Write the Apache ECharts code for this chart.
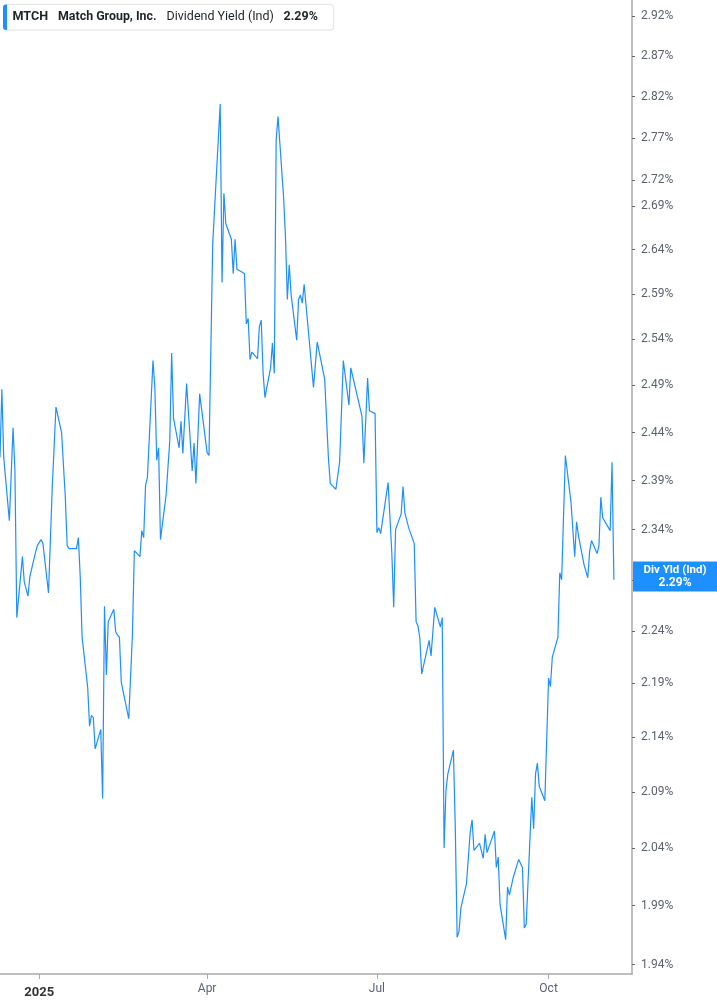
<!DOCTYPE html>
<html><head><meta charset="utf-8">
<script src="https://cdn.jsdelivr.net/npm/echarts@6/dist/echarts.min.js"></script>
<style>html,body{margin:0;padding:0;background:#fff}#c{width:717px;height:1005px}</style>
</head><body><div id="c"></div>
<script>
const dates = [
'2024-12-11','2024-12-12','2024-12-13','2024-12-16','2024-12-18','2024-12-19','2024-12-20','2024-12-23','2024-12-24','2024-12-26','2024-12-27','2024-12-30','2024-12-31',
'2025-01-02','2025-01-03','2025-01-06','2025-01-08','2025-01-10','2025-01-13','2025-01-15','2025-01-16','2025-01-17','2025-01-21','2025-01-22','2025-01-23','2025-01-24','2025-01-27','2025-01-28','2025-01-29','2025-01-30','2025-01-31',
'2025-02-03','2025-02-04','2025-02-05','2025-02-06','2025-02-07','2025-02-10','2025-02-11','2025-02-12','2025-02-13','2025-02-14','2025-02-18','2025-02-20','2025-02-21','2025-02-24','2025-02-25','2025-02-26','2025-02-27','2025-02-28',
'2025-03-03','2025-03-04','2025-03-05','2025-03-06','2025-03-07','2025-03-10','2025-03-12','2025-03-13','2025-03-14','2025-03-17','2025-03-18','2025-03-19','2025-03-21','2025-03-24','2025-03-25','2025-03-26','2025-03-27','2025-03-28',
'2025-04-01','2025-04-02','2025-04-04','2025-04-08','2025-04-09','2025-04-10','2025-04-11','2025-04-14','2025-04-15','2025-04-16','2025-04-17','2025-04-21','2025-04-22','2025-04-23','2025-04-24','2025-04-25','2025-04-28','2025-04-29','2025-04-30',
'2025-05-01','2025-05-02','2025-05-05','2025-05-06','2025-05-07','2025-05-08','2025-05-09','2025-05-12','2025-05-13','2025-05-14','2025-05-15','2025-05-16','2025-05-19','2025-05-20','2025-05-21','2025-05-22','2025-05-23','2025-05-28','2025-05-30',
'2025-06-03','2025-06-05','2025-06-06','2025-06-09','2025-06-11','2025-06-13','2025-06-16','2025-06-17','2025-06-18','2025-06-20','2025-06-23','2025-06-24','2025-06-26','2025-06-27','2025-06-30',
'2025-07-01','2025-07-02','2025-07-03','2025-07-07','2025-07-09','2025-07-10','2025-07-11','2025-07-14','2025-07-15','2025-07-16','2025-07-18','2025-07-21','2025-07-22','2025-07-23','2025-07-24','2025-07-25','2025-07-29','2025-07-30','2025-07-31',
'2025-08-01','2025-08-04','2025-08-05','2025-08-06','2025-08-07','2025-08-08','2025-08-11','2025-08-12','2025-08-13','2025-08-14','2025-08-15','2025-08-18','2025-08-19','2025-08-20','2025-08-21','2025-08-22','2025-08-25','2025-08-27','2025-08-28','2025-08-29',
'2025-09-02','2025-09-03','2025-09-04','2025-09-05','2025-09-08','2025-09-09','2025-09-10','2025-09-12','2025-09-15','2025-09-16','2025-09-17','2025-09-18','2025-09-19','2025-09-22','2025-09-23','2025-09-24','2025-09-25','2025-09-26','2025-09-29','2025-09-30',
'2025-10-01','2025-10-02','2025-10-03','2025-10-06','2025-10-07','2025-10-08','2025-10-10','2025-10-13','2025-10-15','2025-10-16','2025-10-17','2025-10-20','2025-10-22','2025-10-23','2025-10-24','2025-10-27','2025-10-28','2025-10-29','2025-10-30',
'2025-11-03','2025-11-04','2025-11-05'
];
const yields = [
2.414,2.486,2.414,2.349,2.445,2.400,2.253,2.313,2.288,2.274,2.293,2.317,2.324,
2.330,2.326,2.277,2.383,2.467,2.440,2.373,2.324,2.321,2.321,2.332,2.293,2.234,2.186,2.150,2.160,2.158,2.129,
2.147,2.084,2.264,2.198,2.249,2.261,2.239,2.236,2.234,2.191,2.157,2.238,2.319,2.313,2.339,2.332,2.385,2.393,
2.517,2.487,2.411,2.424,2.330,2.375,2.432,2.525,2.455,2.424,2.452,2.418,2.492,2.400,2.429,2.387,2.386,2.481,
2.419,2.416,2.647,2.811,2.603,2.705,2.670,2.652,2.613,2.652,2.618,2.613,2.557,2.563,2.518,2.526,2.519,2.554,2.561,
2.503,2.477,2.509,2.536,2.503,2.768,2.796,2.700,2.654,2.584,2.623,2.590,2.539,2.584,2.589,2.580,2.601,2.488,2.537,
2.497,2.414,2.387,2.381,2.409,2.517,2.469,2.509,2.508,2.483,2.457,2.408,2.498,2.463,2.460,
2.337,2.342,2.336,2.388,2.316,2.263,2.340,2.356,2.384,2.357,2.342,2.326,2.249,2.245,2.233,2.199,2.231,2.216,2.217,
2.263,2.244,2.253,2.040,2.091,2.106,2.128,2.058,1.963,1.968,1.988,2.009,2.009,2.054,2.065,2.038,2.044,2.031,2.052,2.036,
2.055,2.023,2.032,1.991,1.961,2.006,1.999,2.014,2.030,2.031,2.023,1.971,1.974,2.085,2.057,2.106,2.116,2.095,2.082,2.138,
2.195,2.187,2.215,2.234,2.297,2.290,2.416,2.368,2.313,2.348,2.334,2.305,2.292,2.318,2.329,2.316,2.324,2.373,2.352,
2.339,2.409,2.290
];
const yTickValues = [1.94,1.99,2.04,2.09,2.14,2.19,2.24,2.29,2.34,2.39,2.44,2.49,2.54,2.59,2.64,2.69,2.72,2.77,2.82,2.87,2.92];
const xTickDates = ['2025-01-01','2025-04-01','2025-07-01','2025-10-01'];
const xTickLabels = ['2025','Apr','Jul','Oct'];
const yMin = 1.9322, yMax = 2.94;
const xMin = '2024-12-11T00:00:00', xMax = '2025-11-14T17:00:00';
const lastYield = 2.29;
const ticker = 'MTCH', company = 'Match Group, Inc.', metric = 'Dividend Yield (Ind)', boxTitle = 'Div Yld (Ind)';

const BLUE = '#1e8fff';
const AX = '#ababab';
const FONT = 'Roboto';
const ts = s => new Date(s.length === 10 ? s + 'T00:00:00' : s).getTime();
const xTickTs = xTickDates.map(ts);

const chart = echarts.init(document.getElementById('c'));
chart.setOption({
  animation: false,
  backgroundColor: '#fff',
  grid: { left: 0, right: 85, top: 0, bottom: 31, containLabel: false },
  xAxis: {
    type: 'value',
    min: ts(xMin), max: ts(xMax),
    axisLine: { show: true, onZero: false, lineStyle: { color: AX, width: 1.5 } },
    axisTick: { show: true, length: 5, lineStyle: { color: AX, width: 1 }, customValues: xTickTs },
    splitLine: { show: false },
    axisLabel: {
      customValues: xTickTs,
      margin: 9,
      fontFamily: FONT, fontSize: 12, color: '#5b6170',
      formatter: function (v) {
        let best = 0, bd = Infinity;
        xTickTs.forEach((t, i) => { const dd = Math.abs(t - v); if (dd < bd) { bd = dd; best = i; } });
        return best === 0 ? '{y|' + xTickLabels[0] + '}' : xTickLabels[best];
      },
      rich: { y: { fontFamily: FONT, fontSize: 13, fontWeight: 'bold', color: '#333', padding: [3, 0, 0, 0] } }
    }
  },
  yAxis: {
    type: 'value',
    position: 'right',
    min: Math.log(yMin), max: Math.log(yMax),
    axisLine: { show: true, lineStyle: { color: AX, width: 1.5 } },
    axisTick: { show: true, inside: false, length: 3, lineStyle: { color: '#666', width: 1 }, customValues: yTickValues.map(Math.log) },
    splitLine: { show: false },
    axisLabel: {
      customValues: yTickValues.map(Math.log),
      margin: 9,
      fontFamily: FONT, fontSize: 12, color: '#5b6170',
      formatter: v => Math.exp(v).toFixed(2) + '%'
    }
  },
  graphic: [
    { type: 'rect', shape: { x: 3.5, y: 4.5, width: 330, height: 25.5, r: 3 },
      style: { fill: '#fff', stroke: '#e6e6e6', lineWidth: 1, shadowBlur: 2, shadowColor: 'rgba(0,0,0,0.05)' }, z: 10 },
    { type: 'rect', shape: { x: 3, y: 4.5, width: 4, height: 25.5, r: [3, 0, 0, 3] }, style: { fill: BLUE }, z: 11 },
    { type: 'text', x: 12.5, y: 17, style: { text: ticker, fontFamily: FONT, fontSize: 12.6, fontWeight: 'bold', fill: '#1f2329', verticalAlign: 'middle' }, z: 11 },
    { type: 'text', x: 58, y: 17, style: { text: company, fontFamily: FONT, fontSize: 12.4, fontWeight: 'bold', fill: '#1f2329', verticalAlign: 'middle' }, z: 11 },
    { type: 'text', x: 166.5, y: 17, style: { text: metric, fontFamily: FONT, fontSize: 12.5, fontWeight: 'normal', fill: '#1f2329', verticalAlign: 'middle' }, z: 11 },
    { type: 'text', x: 283.5, y: 17, style: { text: lastYield.toFixed(2) + '%', fontFamily: FONT, fontSize: 12.5, fontWeight: 'bold', fill: '#1f2329', verticalAlign: 'middle' }, z: 11 }
  ],
  series: [{
    type: 'line',
    data: dates.map((d, i) => [ts(d), Math.log(yields[i])]),
    showSymbol: false,
    symbol: 'none',
    lineStyle: { color: BLUE, width: 1.2 },
    clip: false,
    markLine: {
      silent: true,
      symbol: 'none',
      clip: false,
      lineStyle: { color: 'rgba(0,0,0,0)', width: 0, type: 'solid' },
      emphasis: { disabled: true },
      data: [{ yAxis: Math.log(lastYield) }],
      label: {
        show: true,
        position: 'end',
        distance: 1,
        formatter: '{a|' + boxTitle + '}\n{b|' + lastYield.toFixed(2) + '%}',
        backgroundColor: BLUE,
        width: 84,
        padding: [2, 0, 2, 0],
        rich: {
          a: { fontFamily: FONT, fontSize: 11.5, fontWeight: 'bold', color: '#fff', align: 'center', lineHeight: 13, width: 84 },
          b: { fontFamily: FONT, fontSize: 12, fontWeight: 'bold', color: '#fff', align: 'center', lineHeight: 13, width: 84 }
        }
      }
    }
  }]
});
</script>
</body></html>
